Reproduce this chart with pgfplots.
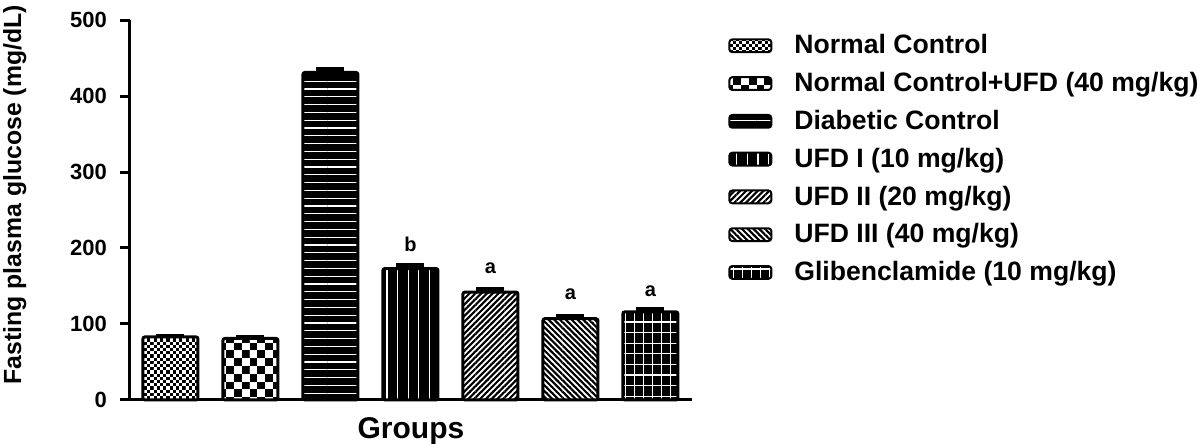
\documentclass[border=0pt]{standalone}
\usepackage{pgfplots}
\pgfplotsset{compat=1.18}
\usepackage{fontspec}
\setmainfont{Liberation Sans}
\usetikzlibrary{patterns.meta}

\tikzdeclarepattern{
  name=fchk, type=colored,
  bottom left={(-0.15pt,-0.15pt)}, top right={(3.35pt,3.35pt)},
  tile size={(3.2pt,3.2pt)},
  code={
    \fill[white] (-0.15pt,-0.15pt) rectangle (3.35pt,3.35pt);
    \foreach \i/\j in {-1/-1,-1/1,0/0,0/2,1/1,1/-1,2/0,2/2}{
      \fill[black] (\i*1.6pt,\j*1.6pt) rectangle ++(1.6pt,1.6pt);}
  }
}
\tikzdeclarepattern{
  name=bchk, type=colored,
  bottom left={(-0.15pt,-0.15pt)}, top right={(7.95pt,7.95pt)},
  tile size={(7.8pt,7.8pt)},
  code={
    \fill[white] (-0.15pt,-0.15pt) rectangle (7.95pt,7.95pt);
    \foreach \i/\j in {-1/-1,-1/1,0/0,0/2,1/1,1/-1,2/0,2/2}{
      \fill[black] (\i*3.9pt,\j*3.9pt) rectangle ++(3.9pt,3.9pt);}
  }
}
\tikzdeclarepattern{
  name=hlin, type=colored,
  bottom left={(-0.15pt,-0.15pt)}, top right={(4.05pt,4.05pt)},
  tile size={(3.9pt,3.9pt)},
  code={
    \fill[black] (-0.15pt,-0.15pt) rectangle (4.05pt,4.05pt);
    \fill[white] (-0.15pt,1.7pt) rectangle (4.05pt,2.25pt);
  }
}
\tikzdeclarepattern{
  name=vlin, type=colored,
  bottom left={(-0.15pt,-0.15pt)}, top right={(5.45pt,5.45pt)},
  tile size={(5.3pt,5.3pt)},
  code={
    \fill[black] (-0.15pt,-0.15pt) rectangle (5.45pt,5.45pt);
    \fill[white] (2.35pt,-0.15pt) rectangle (2.95pt,5.45pt);
  }
}
\tikzdeclarepattern{
  name=grd, type=colored,
  bottom left={(-0.15pt,-0.15pt)}, top right={(4.65pt,5.45pt)},
  tile size={(4.5pt,5.3pt)},
  code={
    \fill[black] (-0.15pt,-0.15pt) rectangle (4.65pt,5.45pt);
    \fill[white] (2.0pt,-0.15pt) rectangle (2.55pt,5.45pt);
    \fill[white] (-0.15pt,2.4pt) rectangle (4.65pt,2.95pt);
  }
}
\tikzdeclarepattern{
  name=nel, type=colored,
  bottom left={(-0.15pt,-0.15pt)}, top right={(3.05pt,3.05pt)},
  tile size={(2.9pt,2.9pt)},
  code={
    \fill[white] (-0.15pt,-0.15pt) rectangle (3.05pt,3.05pt);
    \draw[black,line width=1.05pt] (-1.45pt,-1.45pt) -- (4.35pt,4.35pt);
    \draw[black,line width=1.05pt] (-1.45pt,1.45pt) -- (1.45pt,4.35pt);
    \draw[black,line width=1.05pt] (1.45pt,-1.45pt) -- (4.35pt,1.45pt);
  }
}
\tikzdeclarepattern{
  name=nwl, type=colored,
  bottom left={(-0.15pt,-0.15pt)}, top right={(3.05pt,3.05pt)},
  tile size={(2.9pt,2.9pt)},
  code={
    \fill[white] (-0.15pt,-0.15pt) rectangle (3.05pt,3.05pt);
    \draw[black,line width=1.05pt] (-1.45pt,4.35pt) -- (4.35pt,-1.45pt);
    \draw[black,line width=1.05pt] (-1.45pt,1.45pt) -- (1.45pt,-1.45pt);
    \draw[black,line width=1.05pt] (1.45pt,4.35pt) -- (4.35pt,1.45pt);
  }
}

\pgfplotsset{
  mybar/.style={draw=black, line width=1.5pt, rounded corners=1pt, bar shift=0pt, pattern=#1,
    error bars/y dir=plus, error bars/y explicit,
    error bars/error bar style={line width=2pt, solid, sharp corners},
    error bars/error mark options={rotate=90, line width=2.2pt, mark size=7pt, sharp corners}},
}
\newcommand{\tfont}{\fontsize{11}{13}\selectfont\bfseries}

\begin{document}
\begin{tikzpicture}
\begin{axis}[
  scale only axis, width=281pt, height=190pt,
  xmin=-0.506, xmax=6.52, ymin=0, ymax=500,
  axis x line*=bottom, axis y line*=left,
  axis line style={line width=1.5pt,-},
  xtick=\empty,
  ytick={0,100,200,300,400,500},
  /pgf/number format/assume math mode=true,
  yticklabel={\tfont\pgfmathprintnumber{\tick}},
  yticklabel style={font=\tfont, xshift=-3pt},
  tick align=outside, major tick length=5pt,
  every tick/.style={line width=1.5pt, black},
  ybar, bar width=27.5pt,
  ylabel={Fasting plasma glucose (mg/dL)},
  xlabel={Groups},
  every axis y label/.style={at={(axis description cs:-0.205,0.54)}, rotate=90, anchor=center, font=\fontsize{12.4}{14}\selectfont\bfseries},
  every axis x label/.style={at={(axis description cs:0.5,0)}, anchor=north, yshift=-8.5pt, inner sep=0pt, font=\fontsize{15}{18}\selectfont\bfseries},
  legend style={at={(axis description cs:1.064,0.973)}, anchor=north west, draw=none, inner sep=0pt,
    font=\fontsize{13.3}{15}\selectfont\bfseries, column sep=9pt, row sep=3.75pt},
  legend cell align=left,
  legend image code/.code={\draw[#1, line width=1pt, rounded corners=1.5pt] (0pt,-3.2pt) rectangle (21pt,3.2pt);},
  clip=false,
]
\addplot[mybar=fchk] coordinates {(0,83) +- (0,1.5)};
\addplot[mybar=bchk] coordinates {(1,81) +- (0,1.5)};
\addplot[mybar=hlin] coordinates {(2,431) +- (0,4)};
\addplot[mybar=vlin] coordinates {(3,173) +- (0,4.5)};
\addplot[mybar=nel] coordinates {(4,142) +- (0,4)};
\addplot[mybar=nwl] coordinates {(5,107) +- (0,3.5)};
\addplot[mybar=grd] coordinates {(6,116) +- (0,4)};
\legend{Normal Control, Normal Control+UFD (40 mg/kg), Diabetic Control, UFD I (10 mg/kg), UFD II (20 mg/kg), UFD III (40 mg/kg), Glibenclamide (10 mg/kg)}
\node[anchor=base, font=\fontsize{10}{11}\selectfont\bfseries] at (axis cs:3,196) {b};
\node[anchor=base, font=\fontsize{10}{11}\selectfont\bfseries] at (axis cs:4,167) {a};
\node[anchor=base, font=\fontsize{10}{11}\selectfont\bfseries] at (axis cs:5,132) {a};
\node[anchor=base, font=\fontsize{10}{11}\selectfont\bfseries] at (axis cs:6,136) {a};
\end{axis}
\pgfresetboundingbox
\path[use as bounding box] (current axis.south west) ++(-65pt,-22pt) rectangle ++(600pt,222pt);
\end{tikzpicture}
\end{document}
